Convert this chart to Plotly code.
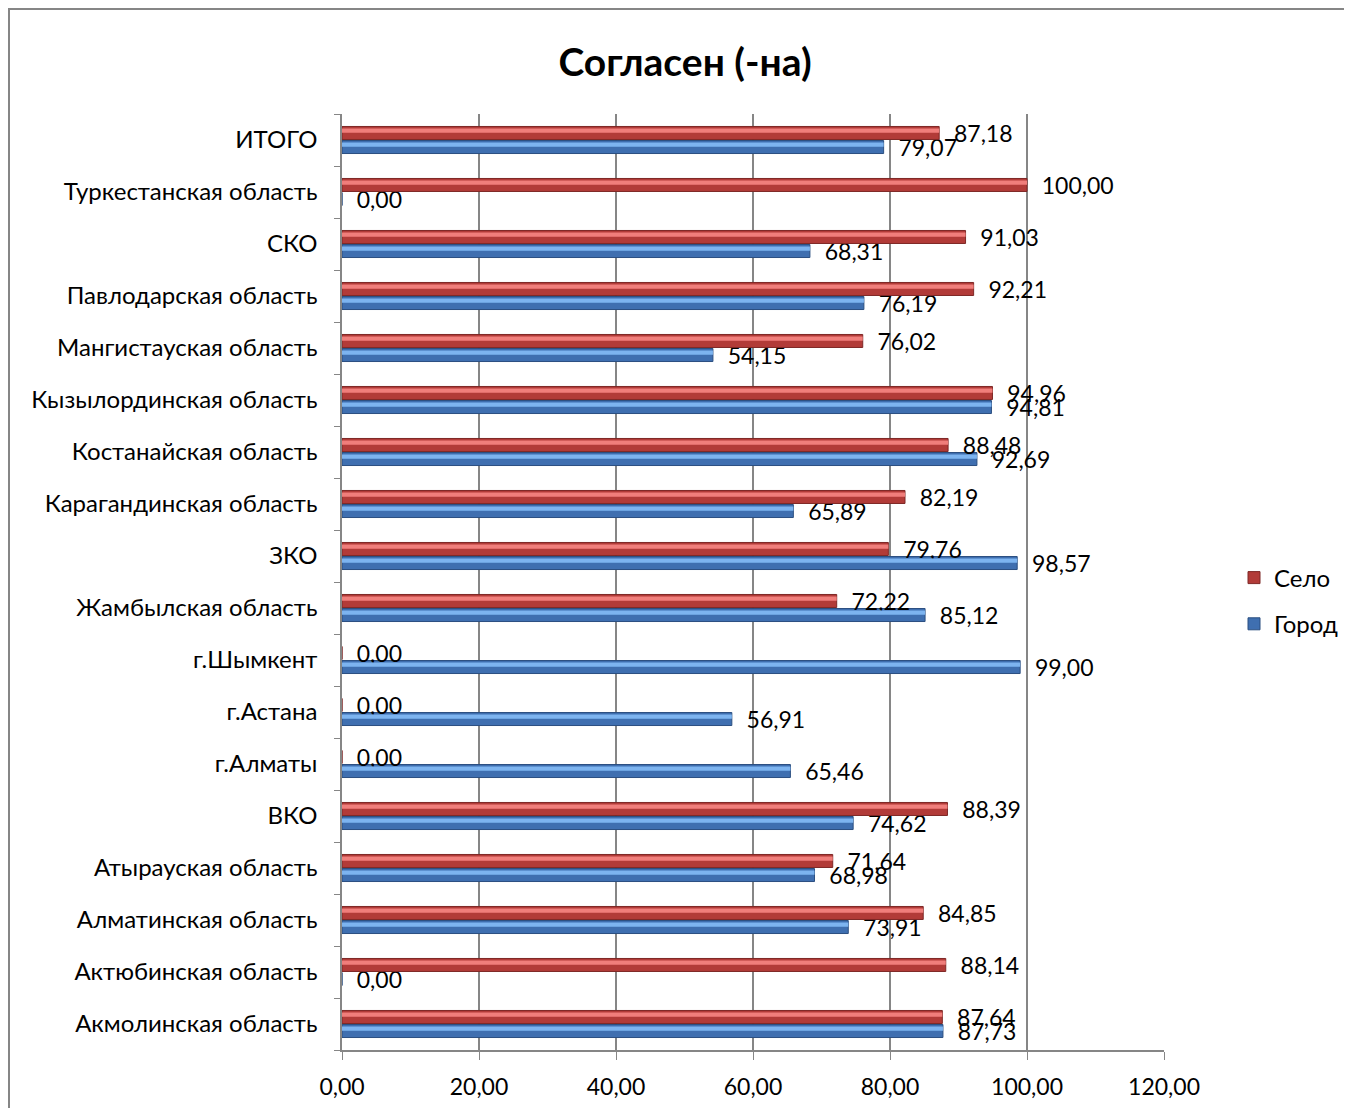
import plotly.graph_objects as go

categories = ["Акмолинская область", "Актюбинская область", "Алматинская область",
              "Атырауская область", "ВКО", "г.Алматы", "г.Астана", "г.Шымкент",
              "Жамбылская область", "ЗКО", "Карагандинская область", "Костанайская область",
              "Кызылординская область", "Мангистауская область", "Павлодарская область",
              "СКО", "Туркестанская область", "ИТОГО"]
gorod = [87.73, 0.00, 73.91, 68.98, 74.62, 65.46, 56.91, 99.00, 85.12, 98.57,
         65.89, 92.69, 94.81, 54.15, 76.19, 68.31, 0.00, 79.07]
selo = [87.64, 88.14, 84.85, 71.64, 88.39, 0.00, 0.00, 0.00, 72.22, 79.76,
        82.19, 88.48, 94.96, 76.02, 92.21, 91.03, 100.00, 87.18]
xticks = [0, 20, 40, 60, 80, 100, 120]

FONT = "Lato, 'Open Sans', sans-serif"
OFF = 8  # page body margin
W, H = 1352 - OFF, 1108 - OFF
L, T = 342 - OFF, 114 - OFF
R = W - (1164 - OFF)
B = H - (1050 - OFF)
PW, PH = W - L - R, H - T - B
BW = 0.25
FS = 23

fig = go.Figure()
fig.add_trace(go.Bar(name="Город", y=categories, x=gorod, orientation="h",
                     offset=-BW - 0.01, width=BW, legendgroup="g", legendrank=2,
                     marker=dict(color="#3F6FB0", line=dict(color="#2B4F80", width=1)),
                     text=gorod, texttemplate="\u00a0\u00a0%{x:.2f}", textposition="outside",
                     constraintext="none", cliponaxis=False,
                     textfont=dict(family=FONT, size=FS, color="#000000")))
fig.add_trace(go.Bar(name="Село", y=categories, x=selo, orientation="h",
                     offset=0.01, width=BW, legendgroup="s", legendrank=1,
                     marker=dict(color="#B23B38", line=dict(color="#7E2826", width=1)),
                     text=selo, texttemplate="\u00a0\u00a0%{x:.2f}", textposition="outside",
                     constraintext="none", cliponaxis=False,
                     textfont=dict(family=FONT, size=FS, color="#000000")))
# highlight strips (3D look)
fig.add_trace(go.Bar(y=categories, x=gorod, orientation="h", offset=-0.13, width=0.08,
                     marker=dict(color="#7DB4F0", line=dict(width=0)),
                     showlegend=False, hoverinfo="skip"))
fig.add_trace(go.Bar(y=categories, x=selo, orientation="h", offset=0.14, width=0.08,
                     marker=dict(color="#F07E7B", line=dict(width=0)),
                     showlegend=False, hoverinfo="skip"))

# chart border
fig.add_shape(type="rect", xref="paper", yref="paper",
              x0=(1 - L) / PW, x1=(W + 20 - L) / PW,
              y0=(H - B - (H + 20)) / PH, y1=(H - B - 1) / PH,
              line=dict(color="#868686", width=2), layer="below")

fig.update_layout(
    width=W, height=H,
    margin=dict(l=L, r=R, t=T, b=B, autoexpand=False),
    paper_bgcolor="white", plot_bgcolor="white",
    separators=", ",
    barmode="overlay",
    title=dict(text="<b>Согласен (-на)</b>", x=(685 - OFF) / W, xanchor="center",
               y=1 - (62 - OFF) / H, yanchor="middle",
               font=dict(family=FONT, size=39, color="#000000")),
    xaxis=dict(range=[0, 120], tickvals=xticks, tickformat=".2f",
               showgrid=True, gridcolor="#868686", gridwidth=1.5,
               showline=True, linecolor="#868686", linewidth=1.5,
               ticks="outside", ticklen=8, tickcolor="#868686",
               ticklabelstandoff=8,
               zeroline=False,
               tickfont=dict(family=FONT, size=FS, color="#000000")),
    yaxis=dict(type="category", range=[-0.5, 17.5],
               showline=True, linecolor="#868686", linewidth=1.5,
               ticks="outside", ticklen=6, tickcolor="#868686",
               tickson="boundaries", ticklabelstandoff=18,
               showgrid=False,
               tickfont=dict(family=FONT, size=24, color="#000000")),
    legend=dict(x=(1234 - OFF - L) / PW, y=(1050 - 601) / PH, xanchor="left", yanchor="middle",
                traceorder="grouped", tracegroupgap=12,
                font=dict(family=FONT, size=24, color="#000000"),
                itemwidth=30),
    showlegend=True,
)

fig.write_html("out.html")
